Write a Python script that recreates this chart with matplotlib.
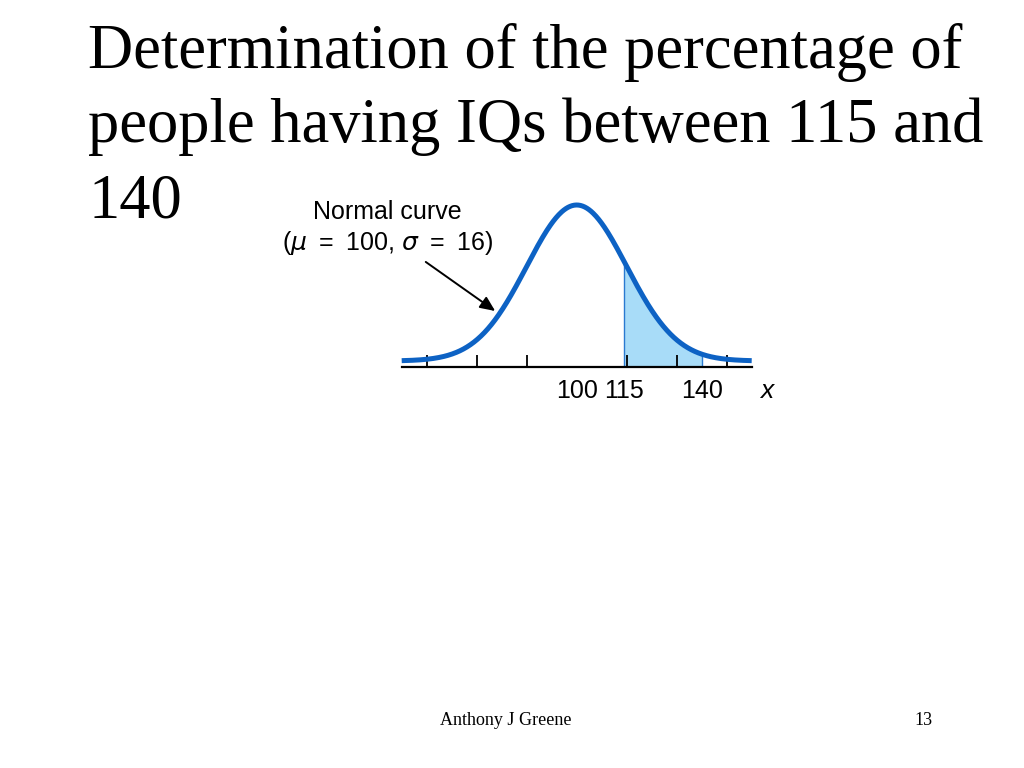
import numpy as np
import matplotlib
matplotlib.use('Agg')
import matplotlib.pyplot as plt

# slide text
title_lines = ['Determination of the percentage of',
               'people having IQs between 115 and',
               '140']
footer = 'Anthony J Greene'
page = '13'

# normal curve parameters
mu = 100
sigma = 16
lower, upper = 115, 140
x_min, x_max = 44, 156
tick_marks = [52, 68, 84, 100, 116, 132, 148]
tick_labels = [100, 115, 140]

curve_color = '#0d62c4'
fill_color = '#a8dcf8'


def pdf(x):
    return np.exp(-0.5 * ((x - mu) / sigma) ** 2) / (sigma * np.sqrt(2 * np.pi))


fig = plt.figure(figsize=(10.24, 7.68), dpi=100)

# title, one line each (serif, like the slide)
for i, line in enumerate(title_lines):
    fig.text(88 / 1024, 1 - (67.5 + 75 * i) / 768, line, family='Liberation Serif',
             fontsize=45, va='baseline', ha='left')

fig.text(506 / 1024, 1 - 725 / 768, footer, family='Liberation Serif',
         fontsize=13, ha='center', va='baseline')
fig.text(923 / 1024, 1 - 725 / 768, page, family='Liberation Serif',
         fontsize=13, ha='center', va='baseline')

# axes placed in pixels: x 401..752, y 205 (peak) .. 367 (axis line)
ax = fig.add_axes([401.7 / 1024, 1 - 367 / 768, 350 / 1024, 162 / 768])
peak = pdf(mu)
bottom = -0.0385 * peak
ax.set_xlim(x_min, x_max)
ax.set_ylim(bottom, peak)

xs = np.linspace(x_min, x_max, 500)
ax.plot(xs, pdf(xs), color=curve_color, lw=3.6, solid_capstyle='butt', clip_on=False, zorder=3)

xf = np.linspace(lower, upper, 200)
ax.fill_between(xf, bottom, pdf(xf), color=fill_color, lw=0, zorder=1)
ax.vlines([lower, upper], bottom, pdf(np.array([lower, upper])), color='#2a7ad0', lw=1.0, zorder=2)

for s in ['top', 'right', 'left']:
    ax.spines[s].set_visible(False)
ax.spines['bottom'].set_linewidth(1.6)
ax.set_yticks([])

ax.set_xticks(tick_labels)
ax.set_xticklabels([str(t) for t in tick_labels], family='Liberation Sans', fontsize=18)
ax.tick_params(axis='x', which='major', length=0, pad=9)
ax.set_xticks(tick_marks, minor=True)
ax.tick_params(axis='x', which='minor', direction='in', length=8.5, width=1.3)

ax.text(1.044, -0.148, 'x', transform=ax.transAxes, family='Liberation Sans',
        style='italic', fontsize=19, ha='center', va='center')

# label and arrow
ax.text(39.4, 0.910 * peak, 'Normal curve', family='Liberation Sans', fontsize=18,
        ha='center', va='baseline')
ax.text(39.4, 0.712 * peak, '($\\mu$\u2002=\u2002100, $\\sigma$\u2002=\u200216)',
        family=['Liberation Sans', 'DejaVu Sans'], fontsize=18, ha='center', va='baseline')
ax.annotate('', xy=(75, pdf(75) + 0.01 * peak), xytext=(51.7, 0.635 * peak),
            arrowprops=dict(arrowstyle='-|>,head_length=0.9,head_width=0.4', color='black',
                            lw=1.4, shrinkA=0, shrinkB=3),
            annotation_clip=False)

fig.savefig('out.png', dpi=100, facecolor='white')
